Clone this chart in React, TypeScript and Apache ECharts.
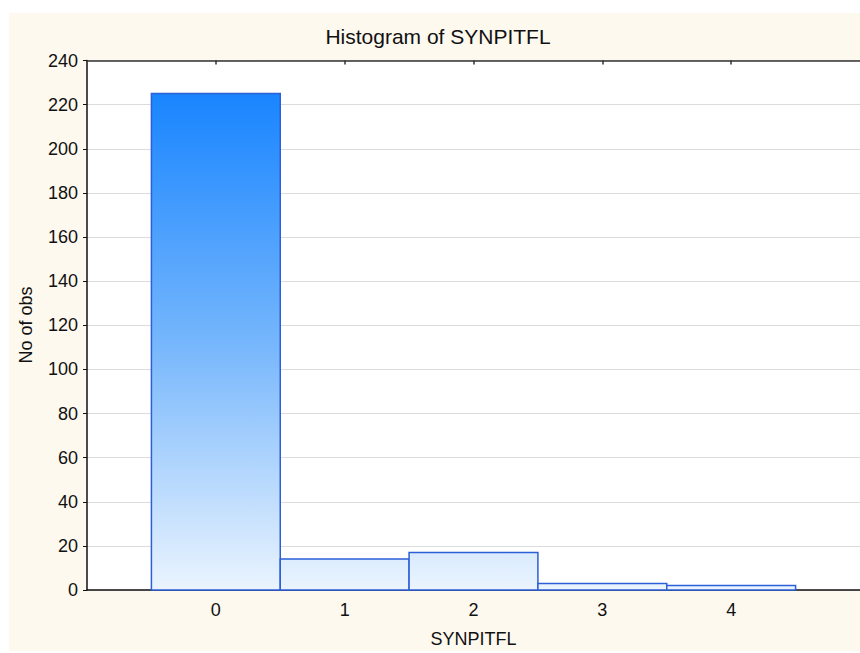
import React, { useEffect, useRef } from "react";
import * as echarts from "echarts";

// Histogram bins (class centres) and their counts
const binCenters = [0, 1, 2, 3, 4];
const counts = [225, 14, 17, 3, 2];
const yTicks = { min: 0, max: 240, step: 20 };
const xRange = { min: -1, max: 5 };

const titleText = "Histogram of SYNPITFL";
const xName = "SYNPITFL";
const yName = "No of obs";

const FONT = "'Liberation Sans', Arial, sans-serif";

export default function App() {
  const ref = useRef<HTMLDivElement>(null);

  useEffect(() => {
    if (!ref.current) return;
    const chart = echarts.init(ref.current, undefined, { renderer: "svg" });
    const peak = Math.max(...counts);

    const option: any = {
      animation: false,
      backgroundColor: "#ffffff",
      textStyle: { fontFamily: FONT },
      title: {
        text: titleText,
        left: 433,
        top: 21,
        textAlign: "center",
        textStyle: { fontFamily: FONT, fontSize: 21, fontWeight: "normal", color: "#111" },
      },
      graphic: [
        {
          type: "rect",
          z: -10,
          silent: true,
          shape: { x: 9, y: 13, width: 860, height: 638 },
          style: { fill: "#fdf9ef" },
        },
        {
          type: "text",
          x: 26,
          y: 325,
          rotation: Math.PI / 2,
          style: {
            text: yName,
            fontFamily: FONT,
            fontSize: 18,
            fill: "#111",
            textAlign: "center",
            textVerticalAlign: "middle",
          },
        },
      ],
      grid: {
        left: 87,
        top: 60.5,
        width: 777,
        bottom: 62,
        show: true,
        backgroundColor: "#ffffff",
        borderWidth: 0,
      },
      xAxis: [
        {
          type: "value",
          min: xRange.min,
          max: xRange.max,
          interval: 1,
          position: "bottom",
          name: xName,
          nameLocation: "middle",
          nameGap: 40,
          nameTextStyle: { fontFamily: FONT, fontSize: 18, color: "#111" },
          axisLine: { show: true, onZero: false, lineStyle: { color: "#111", width: 1.5 } },
          axisTick: {
            show: true,
            inside: true,
            length: 4,
            customValues: binCenters,
            lineStyle: { color: "#333", width: 1.5 },
          },
          axisLabel: {
            show: true,
            margin: 11,
            customValues: binCenters,
            fontFamily: FONT,
            fontSize: 18,
            color: "#111",
          },
          splitLine: { show: false },
        },
        {
          type: "value",
          min: xRange.min,
          max: xRange.max,
          interval: 1,
          position: "top",
          axisLine: { show: true, onZero: false, lineStyle: { color: "#333", width: 1.5 } },
          axisTick: {
            show: true,
            inside: true,
            length: 4,
            customValues: binCenters,
            lineStyle: { color: "#333", width: 1.5 },
          },
          axisLabel: { show: false },
          splitLine: { show: false },
        },
      ],
      yAxis: {
        type: "value",
        min: yTicks.min,
        max: yTicks.max,
        interval: yTicks.step,
        axisLine: { show: true, onZero: false, lineStyle: { color: "#111", width: 1.5 } },
        axisTick: { show: true, inside: false, length: 4, lineStyle: { color: "#111", width: 1 } },
        axisLabel: { margin: 9, fontFamily: FONT, fontSize: 18, color: "#111" },
        splitLine: { show: true, lineStyle: { color: "#dcdcdc", width: 1 } },
      },
      series: [
        {
          type: "custom",
          xAxisIndex: 0,
          yAxisIndex: 0,
          data: binCenters.map((c, i) => [c, counts[i]]),
          encode: { x: 0, y: 1 },
          renderItem: (params: any, api: any) => {
            const c = api.value(0);
            const v = api.value(1);
            const p0 = api.coord([c - 0.5, 0]);
            const p1 = api.coord([c + 0.5, v]);
            const gTop = api.coord([0, peak])[1];
            const gBottom = api.coord([0, 0])[1];
            const fill = new echarts.graphic.LinearGradient(
              0,
              gTop,
              0,
              gBottom,
              [
                { offset: 0, color: "#1985ff" },
                { offset: 0.5, color: "#75b6fc" },
                { offset: 1, color: "#ebf4fe" },
              ],
              true
            );
            return {
              type: "rect",
              shape: { x: p0[0], y: p1[1], width: p1[0] - p0[0], height: p0[1] - p1[1] },
              style: { fill, stroke: "#2c5fd8", lineWidth: 1.5 },
            };
          },
          z: 3,
        },
      ],
    };

    chart.setOption(option);
    return () => chart.dispose();
  }, []);

  return (
    <div
      ref={ref}
      style={{ position: "fixed", left: 0, top: 0, width: 860, height: 653 }}
    />
  );
}
